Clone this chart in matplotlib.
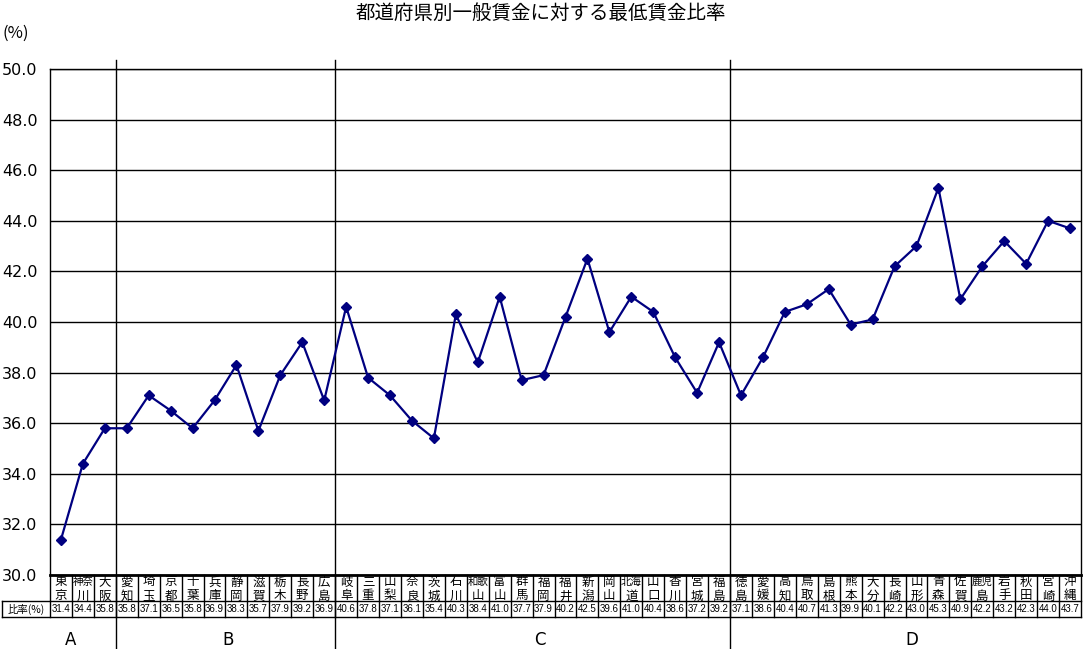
import numpy as np
import matplotlib
matplotlib.use("Agg")
import matplotlib.pyplot as plt

plt.rcParams['font.family'] = ['Noto Sans CJK JP', 'DejaVu Sans']

# Data
prefectures = [
    "東京", "神奈川", "大阪",
    "愛知", "埼玉", "京都", "千葉", "兵庫", "静岡", "滋賀", "栃木", "長野", "広島",
    "岐阜", "三重", "山梨", "奈良", "茨城", "石川", "和歌山", "富山", "群馬", "福岡",
    "福井", "新潟", "岡山", "北海道", "山口", "香川", "宮城", "福島",
    "徳島", "愛媛", "高知", "鳥取", "島根", "熊本", "大分", "長崎", "山形", "青森",
    "佐賀", "鹿児島", "岩手", "秋田", "宮崎", "沖縄",
]
ratios = [
    31.4, 34.4, 35.8,
    35.8, 37.1, 36.5, 35.8, 36.9, 38.3, 35.7, 37.9, 39.2, 36.9,
    40.6, 37.8, 37.1, 36.1, 35.4, 40.3, 38.4, 41.0, 37.7, 37.9,
    40.2, 42.5, 39.6, 41.0, 40.4, 38.6, 37.2, 39.2,
    37.1, 38.6, 40.4, 40.7, 41.3, 39.9, 40.1, 42.2, 43.0, 45.3,
    40.9, 42.2, 43.2, 42.3, 44.0, 43.7,
]
group_names = ["A", "B", "C", "D"]
group_sizes = [3, 10, 18, 16]
y_ticks = np.arange(30.0, 50.1, 2.0)

W, H = 1085, 649
fig = plt.figure(figsize=(W / 100, H / 100), dpi=100)
left, right, top, bottom = 50, 1081, 69, 575
ax = fig.add_axes([left / W, 1 - bottom / H, (right - left) / W, (bottom - top) / H])

n = len(prefectures)
x = np.arange(n)
ax.plot(x, ratios, color="#000080", lw=1.6, marker="D", ms=5.5, zorder=3)

ax.set_xlim(-0.5, n - 0.5)
ax.set_ylim(30, 50)
ax.set_yticks(y_ticks)
ax.set_yticklabels([f"{v:.1f}" for v in y_ticks], fontsize=11.5, family="DejaVu Sans")
ax.tick_params(axis="y", length=0, pad=9)
ax.set_xticks([])
for v in y_ticks:
    ax.axhline(v, color="black", lw=1, zorder=1)
for s in ax.spines.values():
    s.set_linewidth(1)
ax.spines["bottom"].set_linewidth(2)

ph = bottom - top
def fy(py):
    # pixel row -> axes fraction
    return (bottom - py) / ph

tr = ax.get_xaxis_transform()
line_kw = dict(color="black", lw=1, transform=tr, clip_on=False)

# table lines
y_row1, y_row2, y_row3 = fy(601), fy(617), fy(649)
for i in range(1, n):
    ax.plot([i - 0.5, i - 0.5], [0, y_row2], **line_kw)
ax.plot([n - 0.5, n - 0.5], [0, y_row2], **line_kw)
ax.plot([-0.5, -0.5], [0, y_row2], **line_kw)
x0 = -0.5 - (left - 2) / ((right - left) / n)
ax.plot([x0, n - 0.5], [y_row1, y_row1], **line_kw)
ax.plot([x0, n - 0.5], [y_row2, y_row2], **line_kw)
ax.plot([x0, x0], [y_row1, y_row2], **line_kw)

# group separators and labels
label_nudge = [-0.55, 0.1, 0.35, 0.3]
start = 0
for g, size, dx in zip(group_names, group_sizes, label_nudge):
    end = start + size
    if end < n:
        ax.plot([end - 0.5, end - 0.5], [y_row3, fy(60)], **line_kw)
    ax.text((start + end - 1) / 2 + dx, fy(640), g, transform=tr, ha="center",
            va="center", fontsize=12, family="DejaVu Sans")
    start = end

# names and values
for i, (name, v) in enumerate(zip(prefectures, ratios)):
    first, last = name[:-1], name[-1]
    fs1 = 9 if len(first) == 1 else 7.5
    ax.text(i, fy(582), first, transform=tr, ha="center", va="center", fontsize=fs1)
    ax.text(i, fy(596), last, transform=tr, ha="center", va="center", fontsize=9)
    ax.text(i, fy(609), f"{v:.1f}", transform=tr, ha="center", va="center",
            fontsize=7, family="Liberation Sans")

ax.text((x0 - 0.5) / 2, fy(609), "比率(%)", transform=tr, ha="center",
        va="center", fontsize=7.5)

fig.text(2 / W, 1 - 33 / H, "(%)", ha="left", va="center", fontsize=12)
fig.text(541 / W, 1 - 13 / H, "都道府県別一般賃金に対する最低賃金比率",
         ha="center", va="center", fontsize=14)

fig.savefig("out.png", dpi=100)
